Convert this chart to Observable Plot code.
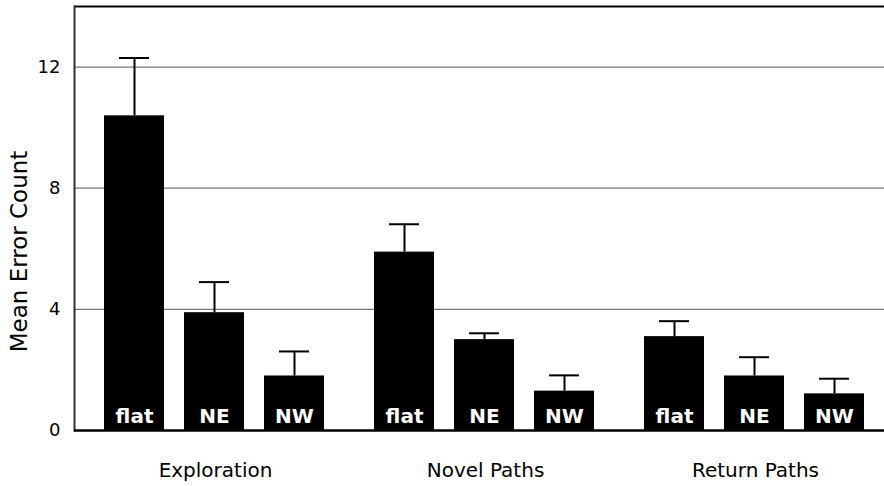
<!DOCTYPE html>
<html><head><meta charset="utf-8">
<script src="https://cdn.jsdelivr.net/npm/d3@7"></script>
<script src="https://cdn.jsdelivr.net/npm/@observablehq/plot@0.6"></script>
<style>
body{margin:0;background:#fff}
#chart svg{display:block}
</style>
</head><body><div id="chart"></div>
<script>
const groups = ["Exploration", "Novel Paths", "Return Paths"];
const conditions = ["flat", "NE", "NW"];
const explorationMeans = [10.39, 3.89, 1.80];
const explorationSE = [1.91, 1.01, 0.81];
const novelMeans = [5.89, 3.00, 1.30];
const novelSE = [0.92, 0.21, 0.52];
const returnMeans = [3.10, 1.80, 1.21];
const returnSE = [0.51, 0.62, 0.50];
const yTicks = [0, 4, 8, 12];
const yLabel = "Mean Error Count";

const meansByGroup = [explorationMeans, novelMeans, returnMeans];
const seByGroup = [explorationSE, novelSE, returnSE];
const rows = [];
groups.forEach((g, i) => conditions.forEach((c, j) => {
  rows.push({group: g, cond: c, mean: meansByGroup[i][j], se: seByGroup[i][j]});
}));

const chart = Plot.plot({
  width: 884, height: 486,
  marginLeft: 73, marginRight: 0, marginTop: 6, marginBottom: 56,
  style: {fontFamily: "DejaVu Sans", fontSize: "18px", background: "white", color: "black"},
  facet: {data: rows, x: "group"},
  fx: {domain: groups, padding: 0, label: null},
  x: {domain: conditions, axis: null, paddingInner: 0.25, paddingOuter: 0.3, align: 0.6},
  y: {domain: [0, 14]},
  marks: [
    Plot.ruleY(yTicks.filter(d => d > 0), {stroke: "#777", strokeWidth: 1.3}),
    Plot.ruleY([14], {stroke: "black", strokeWidth: 2}),
    Plot.barY(rows, {x: "cond", y: "mean", fill: "black"}),
    Plot.ruleX(rows, {x: "cond", y1: "mean", y2: d => d.mean + d.se, stroke: "black", strokeWidth: 2}),
    Plot.tickY(rows, {x: "cond", y: d => d.mean + d.se, insetLeft: 15, insetRight: 15, stroke: "black", strokeWidth: 2}),
    Plot.text(rows, {x: "cond", y: 0, text: "cond", fill: "white", fontWeight: "bold", fontSize: 20, lineAnchor: "bottom", dy: -8}),
    Plot.frame({anchor: "left", facetAnchor: "left", stroke: "#333", strokeWidth: 2}),
    Plot.ruleY([0], {stroke: "black", strokeWidth: 2.5}),
    Plot.axisY({ticks: yTicks, tickSize: 0, tickPadding: 14, label: null, fontSize: 18}),
    Plot.axisFx({anchor: "bottom", tickSize: 0, tickPadding: 32, label: null, fontSize: 20, dx: 6}),
    Plot.text([yLabel], {text: d => d, frameAnchor: "left", textAnchor: "middle", lineAnchor: "middle", rotate: -90, dx: -55, dy: 33, fontSize: 23, facetAnchor: "left"})
  ]
});
document.getElementById("chart").appendChild(chart);
</script>
</body></html>
